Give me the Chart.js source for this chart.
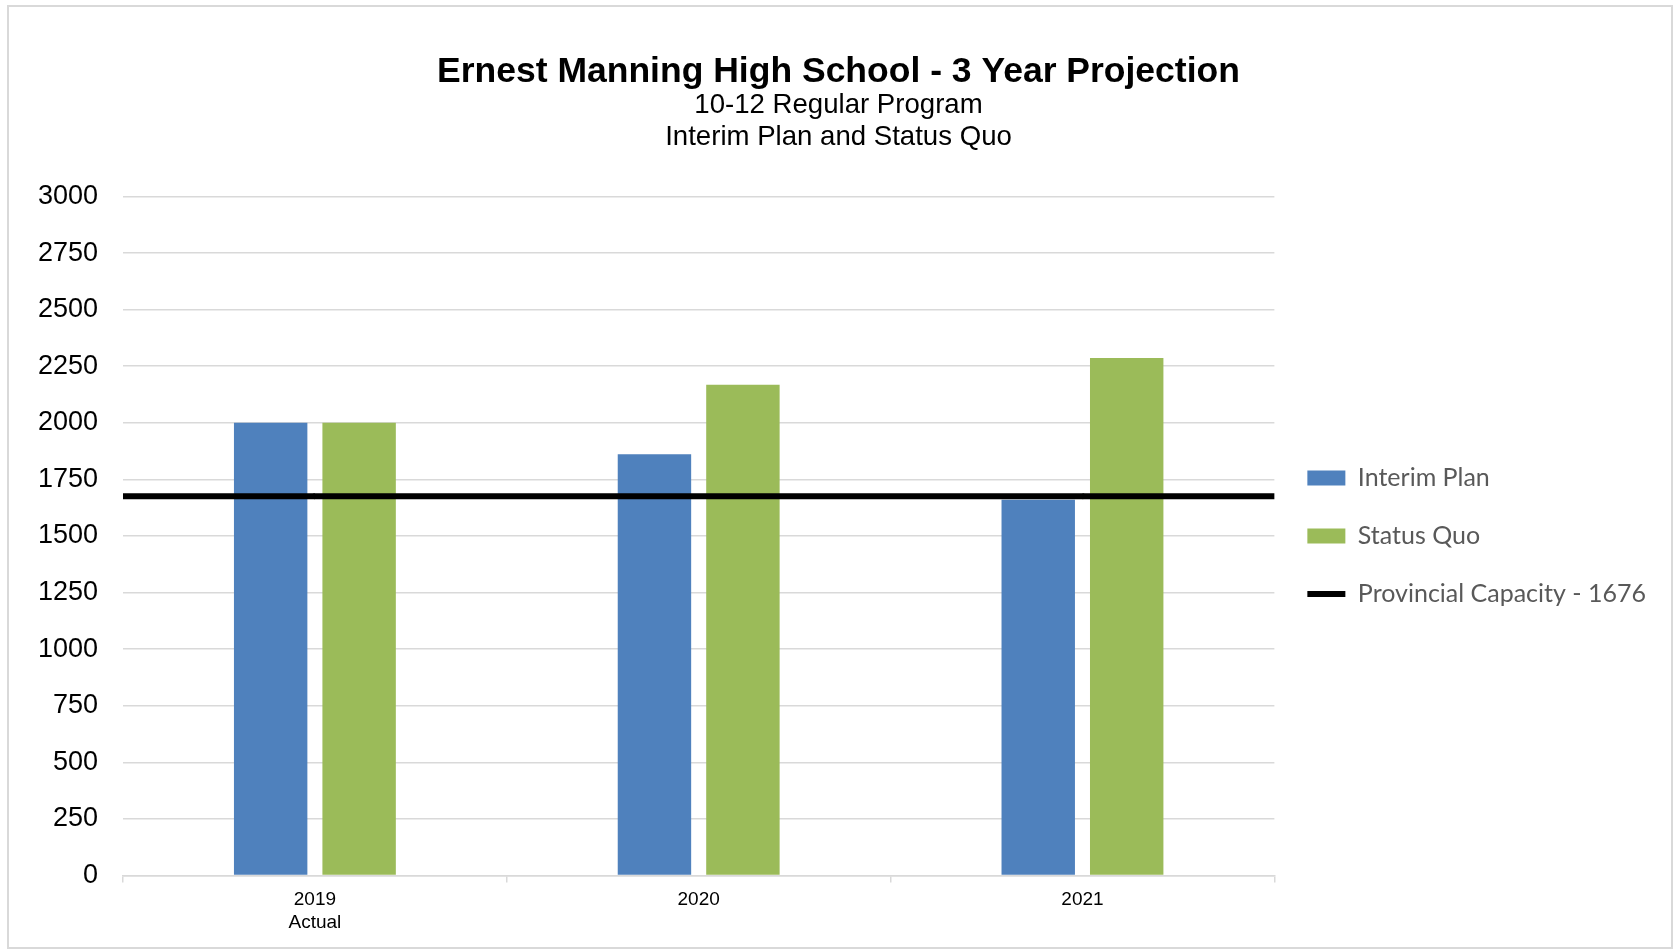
<!DOCTYPE html>
<html>
<head>
<meta charset="utf-8">
<script src="https://cdn.jsdelivr.net/npm/chart.js@4"></script>
<style>
    body { margin: 0; background: #fff; }
    #wrap { position: relative; width: 1677px; height: 951px; }
    #frame { position: absolute; left: 7px; top: 5px; width: 1662px; height: 940px; border: 2px solid #d9d9d9; pointer-events: none; }
</style>
</head>
<body>
<div id="wrap">
    <canvas id="chart" width="1677" height="951"></canvas>
    <div id="frame"></div>
</div>
<script>
const years = [['2019', 'Actual'], '2020', '2021']
const interimPlan = [2000, 1861, 1660]
const statusQuo = [2000, 2168, 2286]
const capacity = [1676, 1676, 1676]
const yTicks = [0, 250, 500, 750, 1000, 1250, 1500, 1750, 2000, 2250, 2500, 2750, 3000]

Chart.defaults.font.family = "'Liberation Sans', Arial, sans-serif"
Chart.defaults.color = '#000'

// stretch the capacity line from its first/last point out to the plot edges
const extendLine = {
    id: 'extendLine',
    afterDatasetsDraw(chart) {
        const meta = chart.getDatasetMeta(2)
        if (!meta.visible || !meta.data.length) return
        const ds = chart.data.datasets[2]
        const first = meta.data[0]
        const last = meta.data[meta.data.length - 1]
        const { ctx, chartArea } = chart
        ctx.save()
        ctx.strokeStyle = ds.borderColor
        ctx.lineWidth = ds.borderWidth
        ctx.lineCap = 'butt'
        ctx.beginPath()
        ctx.moveTo(chartArea.left, first.y)
        ctx.lineTo(first.x, first.y)
        ctx.moveTo(last.x, last.y)
        ctx.lineTo(chartArea.right, last.y)
        ctx.stroke()
        ctx.restore()
    }
}

const ctx = document.getElementById('chart').getContext('2d')

new Chart(ctx, {
    type: 'bar',
    data: {
        labels: years,
        datasets: [
            {
                type: 'bar',
                label: 'Interim Plan',
                data: interimPlan,
                backgroundColor: '#4f81bd',
                borderWidth: 0,
                pointStyle: 'rect',
                order: 1
            },
            {
                type: 'bar',
                label: 'Status Quo',
                data: statusQuo,
                backgroundColor: '#9bbb59',
                borderWidth: 0,
                pointStyle: 'rect',
                order: 1
            },
            {
                type: 'line',
                label: 'Provincial Capacity - 1676',
                data: capacity,
                borderColor: '#000',
                backgroundColor: '#000',
                borderWidth: 6,
                borderCapStyle: 'round',
                pointRadius: 0,
                pointStyle: 'line',
                order: 0
            }
        ]
    },
    options: {
        responsive: false,
        animation: false,
        categoryPercentage: 0.461,
        barPercentage: 0.83,
        layout: {
            padding: { left: 21, right: 21, bottom: 11, top: 0 }
        },
        scales: {
            x: {
                type: 'category',
                offset: true,
                grid: {
                    display: true,
                    drawOnChartArea: false,
                    drawTicks: true,
                    tickLength: 7,
                    offset: true,
                    color: '#d9d9d9',
                    lineWidth: 1.5
                },
                border: { display: true, color: '#d9d9d9', width: 1.5 },
                ticks: {
                    font: { size: 19, lineHeight: 1.2 },
                    color: '#000',
                    padding: 6,
                    maxRotation: 0
                }
            },
            y: {
                min: 0,
                max: 3000,
                afterBuildTicks: scale => {
                    scale.ticks = yTicks.map(v => ({ value: v }))
                },
                afterFit: scale => {
                    scale.width = 102
                },
                grid: {
                    color: '#d9d9d9',
                    lineWidth: 1.5,
                    drawTicks: false
                },
                border: { display: false },
                ticks: {
                    font: { size: 27 },
                    color: '#000',
                    padding: 25,
                    callback: v => String(v)
                }
            }
        },
        plugins: {
            title: {
                display: true,
                text: 'Ernest Manning High School - 3 Year Projection',
                color: '#000',
                font: { size: 35.5, weight: 'bold', lineHeight: 1.0 },
                padding: { top: 54, bottom: 0 }
            },
            subtitle: {
                display: true,
                text: ['10-12 Regular Program', 'Interim Plan and Status Quo'],
                color: '#000',
                font: { size: 27.6, lineHeight: 1.16 },
                padding: { top: 0, bottom: 43 }
            },
            legend: {
                position: 'right',
                align: 'center',
                fullSize: false,
                labels: {
                    usePointStyle: true,
                    pointStyleWidth: 38,
                    boxHeight: 15,
                    padding: 33,
                    color: '#595959',
                    font: { family: 'Lato', size: 25 },
                    sort: (a, b) => a.datasetIndex - b.datasetIndex
                }
            },
            tooltip: { enabled: false }
        }
    },
    plugins: [extendLine]
})
</script>
</body>
</html>
